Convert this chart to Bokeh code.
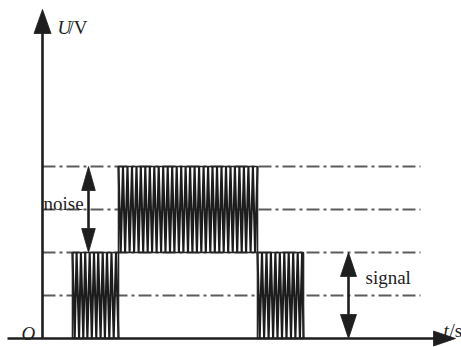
from bokeh.plotting import figure
from bokeh.models import Range1d, Label
from bokeh.embed import file_html
from bokeh.resources import INLINE

# ---------------- data (t in arbitrary units, U in volts-like units) ----------------
SEG_START = [3.0, 7.6, 21.5]
SEG_END = [7.6, 21.5, 26.1]
SEG_LOW = [0.0, 1.0, 0.0]
SEG_HIGH = [1.0, 2.0, 1.0]

# zig-zag vertex times of the noisy waveform
SEG1_T = [3.00, 3.22, 3.41, 3.66, 3.84, 4.08, 4.27, 4.49, 4.72, 4.93, 5.15,
          5.38, 5.57, 5.81, 6.02, 6.24, 6.45, 6.68, 6.90, 7.12, 7.35, 7.60]
SEG2_T = [7.60, 7.82, 8.05, 8.26, 8.50, 8.71, 8.95, 9.16, 9.40, 9.61, 9.83,
          10.07, 10.28, 10.52, 10.73, 10.96, 11.18, 11.41, 11.62, 11.86, 12.07,
          12.30, 12.52, 12.75, 12.97, 13.19, 13.42, 13.64, 13.87, 14.09, 14.31,
          14.55, 14.76, 14.99, 15.21, 15.44, 15.66, 15.88, 16.11, 16.33, 16.56,
          16.78, 17.00, 17.23, 17.45, 17.68, 17.90, 18.12, 18.35, 18.57, 18.80,
          19.02, 19.24, 19.47, 19.69, 19.92, 20.14, 20.36, 20.59, 20.81, 21.04,
          21.26, 21.50]
SEG3_T = [21.50, 21.72, 21.95, 22.16, 22.40, 22.61, 22.84, 23.06, 23.29, 23.50,
          23.73, 23.95, 24.18, 24.40, 24.62, 24.85, 25.07, 25.29, 25.52, 25.74,
          25.96, 26.10]
SEG_T = [SEG1_T, SEG2_T, SEG3_T]

REF_LEVELS = [0.5, 1.0, 1.5, 2.0]
REF_T_END = 37.8

NOISE_ARROW_T = 4.6
NOISE_RANGE = [1.0, 2.0]
SIGNAL_ARROW_T = 30.6
SIGNAL_RANGE = [0.0, 1.0]

Y_LABEL = ["U", "/V"]
X_LABEL = ["t", "/s"]
ORIGIN_LABEL = "O"
NOISE_LABEL = "noise"
SIGNAL_LABEL = "signal"

# ---------------- geometry helpers ----------------
W, H = 461, 347
T_PER_PX = 0.1          # t units per pixel
U_PER_PX = 1.0 / 86.0   # U units per pixel
X0 = -42 * T_PER_PX
Y0 = (338 - H) * U_PER_PX


def uy(py):
    return (338 - py) * U_PER_PX


def tx(px):
    return (px - 42) * T_PER_PX


p = figure(width=W, height=H, output_backend="svg", toolbar_location=None,
           x_axis_type=None, y_axis_type=None,
           x_range=Range1d(X0, X0 + W * T_PER_PX),
           y_range=Range1d(Y0, Y0 + H * U_PER_PX),
           min_border=0)
p.outline_line_color = None
p.grid.visible = False
p.background_fill_color = "white"
p.border_fill_color = "white"

INK = "#1e1e1e"

# reference dash-dot lines
for lv in REF_LEVELS:
    p.line([0, REF_T_END], [lv, lv], line_color="#5c5c5c", line_width=1.8,
           line_dash="13 4 3 4")

# noisy waveform
xs, ys = [], []
for ts, lo, hi in zip(SEG_T, SEG_LOW, SEG_HIGH):
    xs.append(ts)
    ys.append([hi if i % 2 == 0 else lo for i in range(len(ts))])
p.multi_line(xs, ys, line_color="#1c1c1c", line_width=2.1, line_join="miter")
p.quad(left=SEG_START, right=SEG_END, bottom=SEG_LOW, top=SEG_HIGH,
       fill_color=None, line_color="#262626", line_width=1.6)


def v_head(x, tip_y, direction, length_px, half_w_px):
    base = tip_y - direction * length_px * U_PER_PX
    hw = half_w_px * T_PER_PX
    p.patch([x - hw, x, x + hw], [base, tip_y, base], fill_color=INK,
            line_color=INK, line_width=0.8)
    return base


def h_head(tip_x, y, length_px, half_h_px):
    base = tip_x - length_px * T_PER_PX
    hh = half_h_px * U_PER_PX
    p.patch([base, tip_x, base], [y - hh, y, y + hh], fill_color=INK,
            line_color=INK, line_width=0.8)
    return base


# y axis with arrow
yb = v_head(0, uy(9), 1, 24, 8.5)
p.line([0, 0], [0, yb + 0.01], line_color=INK, line_width=2.6)

# x axis with arrow
xb = h_head(tx(455), 0, 22, 7.5)
p.line([tx(7), xb + 0.1], [0, 0], line_color=INK, line_width=2.6)

# double arrows
for t, (lo, hi), hw in [(NOISE_ARROW_T, NOISE_RANGE, 6.8),
                        (SIGNAL_ARROW_T, SIGNAL_RANGE, 8.0)]:
    top_b = v_head(t, hi, 1, 24, hw)
    bot_b = v_head(t, lo, -1, 24, hw)
    p.line([t, t], [bot_b, top_b], line_color=INK, line_width=2.6)

FONT = "Liberation Serif"
FS = "19px"


def lab(px, py, text, style="normal"):
    p.add_layout(Label(x=tx(px), y=uy(py), text=text, text_font=FONT,
                       text_font_size=FS, text_font_style=style, text_color=INK,
                       text_baseline="alphabetic", text_align="left"))


lab(57, 27, Y_LABEL[0], "italic")
lab(68, 27, Y_LABEL[1])
lab(443, 330, X_LABEL[0], "italic")
lab(449, 330, X_LABEL[1])
lab(21, 333, ORIGIN_LABEL, "italic")
lab(43, 203, NOISE_LABEL)
lab(365, 277, SIGNAL_LABEL)

open("out.html", "w").write(file_html(p, INLINE))
